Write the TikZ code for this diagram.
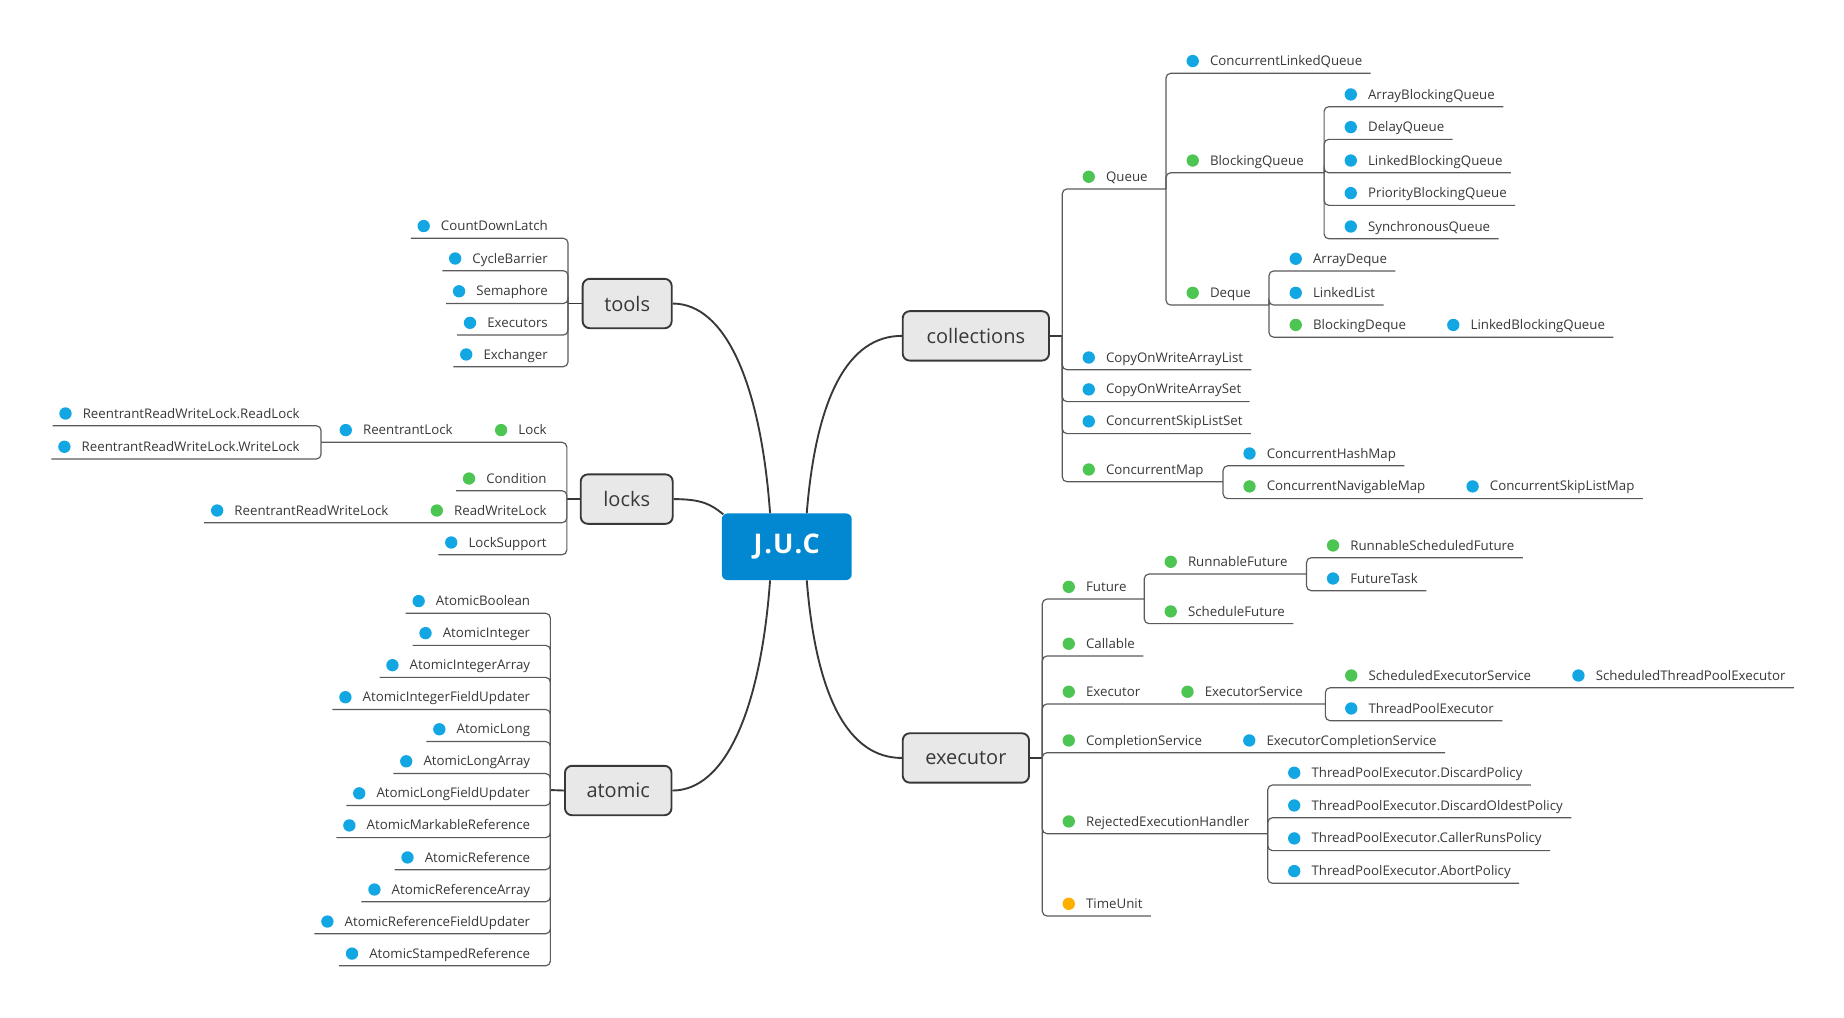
\documentclass[tikz,border=0pt]{standalone}
\usepackage{fontspec}
\setmainfont{Open Sans}
\usetikzlibrary{calc}
\definecolor{cb}{HTML}{12A6E3}
\definecolor{cg}{HTML}{4CC552}
\definecolor{co}{HTML}{FFAF00}
\definecolor{jucc}{HTML}{0288D1}
\definecolor{boxf}{HTML}{E8E8E8}
\definecolor{txt}{HTML}{383838}
\definecolor{lnc}{HTML}{5A5A5A}
\tikzset{
  lf/.style={inner sep=0pt, text=txt, font=\fontsize{11.3}{13}\selectfont},
  dot/.style={circle, inner sep=0pt, minimum size=10.5pt},
  br/.style={draw=lnc, line width=1pt, rounded corners=4pt},
  conn/.style={draw=txt, line width=1.6pt},
  topic/.style={draw=txt, line width=1.6pt, fill=boxf, rounded corners=6pt, minimum height=42pt, text=txt, font=\fontsize{17}{20}\selectfont, inner sep=0pt},
  jucbox/.style={fill=jucc, rounded corners=5pt, minimum width=110.5pt, minimum height=56.7pt, text=white, font=\fontsize{23}{26}\selectfont\bfseries\addfontfeature{LetterSpace=6}, inner sep=0pt}
}
\newcommand\RLbody[2]{%
  \node[lf, anchor=base west] (#1) at ($(#1d)+(14.5,3.9)$) {#2};
  \coordinate (#1-s) at ($(#1d)+(-11,10.4)$);
  \coordinate (#1-e) at ($(#1.base east)+(7,6.5)$);}
\newcommand\RL[5]{\node[dot,fill=#4] (#1d) at (#2,#3-10.4) {};\RLbody{#1}{#5}}
\newcommand\RLi[4]{\node[dot,fill=#3] (#1d) at ($(#2.base east)+(40,-3.9)$) {};\RLbody{#1}{#4}}
\newcommand\LLbody[2]{%
  \node[dot,fill=#2] (#1d) at ($(#1.base west)+(-14.5,-3.9)$) {};
  \coordinate (#1-s) at ($(#1.base west)+(-25.5,6.5)$);}
\newcommand\LL[5]{\node[lf,anchor=base east] (#1) at (#2,#3-6.5) {#5};\LLbody{#1}{#4}}
\newcommand\LLi[4]{\node[lf,anchor=base east] (#1) at ($(#2d)+(-41,3.9)$) {#4};\LLbody{#1}{#3}}
\begin{document}
\begin{tikzpicture}[x=1pt,y=-1pt]
\useasboundingbox (0,0) rectangle (1568,865);
% central and main topics
\node[jucbox] (J) at (669,464.9) {J.U.C};
\node[topic, minimum width=75.7pt] (tools) at (533.3,258.1) {tools};
\node[topic, minimum width=78.2pt] (locks) at (532.9,424.4) {locks};
\node[topic, minimum width=90.6pt] (atomic) at (525.7,672.2) {atomic};
\node[topic, minimum width=124.4pt] (coll) at (829.8,285.6) {collections};
\node[topic, minimum width=107.4pt] (exec) at (821.3,644.5) {executor};
\draw[conn] ([xshift=-14.2pt]J.north) .. controls +(-8,-110) and +(45,0) .. (tools.east);
\draw[conn] (locks.east) .. controls +(25,0) and +(-10,-8) .. ([xshift=1.5pt,yshift=-1pt]J.north west);
\draw[conn] ([xshift=-14.2pt]J.south) .. controls +(-8,110) and +(45,0) .. (atomic.east);
\draw[conn] ([xshift=17pt]J.north) .. controls +(8,-100) and +(-45,0) .. (coll.west);
\draw[conn] ([xshift=17pt]J.south) .. controls +(8,100) and +(-45,0) .. (exec.west);
% branch points
\coordinate (vT) at (483,258.1);
\coordinate (vL) at (482,424.4);
\coordinate (vRL) at (273,376.1);
\coordinate (vA) at (468,671.8);
\coordinate (vC) at (903.3,285.6);
\coordinate (vQ) at (991.5,160.7);
\coordinate (vBQ) at (1125.9,146.9);
\coordinate (vDq) at (1079,259.4);
\coordinate (vCM) at (1040,409.6);
\coordinate (vE) at (886.3,644.5);
\coordinate (vF) at (973,509.4);
\coordinate (vRF) at (1111,488.1);
\coordinate (vES) at (1127,598.6);
\coordinate (vR) at (1078,708.9);
\draw[conn] (tools.west) -- (vT);
\draw[conn] (locks.west) -- (vL);
\draw[conn] (atomic.west) -- (vA);
\draw[conn] (coll.east) -- (vC);
\draw[conn] (exec.east) -- (vE);
% tools
\LL{cdl}{466}{202.6}{cb}{CountDownLatch}
\LL{cyb}{466}{230.2}{cb}{CycleBarrier}
\LL{sem}{466}{258.1}{cb}{Semaphore}
\LL{exs}{466}{284.9}{cb}{Executors}
\LL{exch}{466}{311.8}{cb}{Exchanger}
\foreach \n in {cdl,cyb,sem,exs,exch} \draw[br] (vT) |- (\n-s);
% locks
\LL{lock}{465}{376.1}{cg}{Lock}
\LLi{rlock}{lock}{cb}{ReentrantLock}
\LL{rdl}{255}{362}{cb}{ReentrantReadWriteLock.ReadLock}
\LL{wrl}{255}{390.3}{cb}{ReentrantReadWriteLock.WriteLock}
\LL{cond}{465}{417.3}{cg}{Condition}
\LL{rwlk}{465}{444.5}{cg}{ReadWriteLock}
\LLi{rrwl}{rwlk}{cb}{ReentrantReadWriteLock}
\LL{lsup}{465}{471.7}{cb}{LockSupport}
\draw[br] (vL) |- (vRL);
\draw[br] (vRL) |- (rdl-s);
\draw[br] (vRL) |- (wrl-s);
\foreach \n in {cond,rrwl,lsup} \draw[br] (vL) |- (\n-s);
% atomic
\LL{a1}{451}{521.5}{cb}{AtomicBoolean}
\LL{a2}{451}{548.75}{cb}{AtomicInteger}
\LL{a3}{451}{576}{cb}{AtomicIntegerArray}
\LL{a4}{451}{603.25}{cb}{AtomicIntegerFieldUpdater}
\LL{a5}{451}{630.5}{cb}{AtomicLong}
\LL{a6}{451}{657.75}{cb}{AtomicLongArray}
\LL{a7}{451}{685}{cb}{AtomicLongFieldUpdater}
\LL{a8}{451}{712.25}{cb}{AtomicMarkableReference}
\LL{a9}{451}{739.5}{cb}{AtomicReference}
\LL{a10}{451}{766.75}{cb}{AtomicReferenceArray}
\LL{a11}{451}{794}{cb}{AtomicReferenceFieldUpdater}
\LL{a12}{451}{821.25}{cb}{AtomicStampedReference}
\foreach \i in {1,...,12} \draw[br] (vA) |- (a\i-s);
% collections
\RL{queue}{925.8}{160.7}{cg}{Queue}
\RL{clq}{1014.2}{62.3}{cb}{ConcurrentLinkedQueue}
\RL{bq}{1014.2}{146.9}{cg}{BlockingQueue}
\RL{abq}{1148.6}{90.7}{cb}{ArrayBlockingQueue}
\RL{dq}{1148.6}{118.5}{cb}{DelayQueue}
\RL{lbq}{1148.6}{146.9}{cb}{LinkedBlockingQueue}
\RL{pbq}{1148.6}{174.6}{cb}{PriorityBlockingQueue}
\RL{sq}{1148.6}{203}{cb}{SynchronousQueue}
\RL{deq}{1014.2}{259.4}{cg}{Deque}
\RL{ad}{1101.8}{230.4}{cb}{ArrayDeque}
\RL{ll}{1101.8}{259.4}{cb}{LinkedList}
\RL{bd}{1101.8}{286.7}{cg}{BlockingDeque}
\RLi{lbd}{bd}{cb}{LinkedBlockingQueue}
\RL{cowal}{925.8}{314.4}{cb}{CopyOnWriteArrayList}
\RL{cowas}{925.8}{341.5}{cb}{CopyOnWriteArraySet}
\RL{csls}{925.8}{368.7}{cb}{ConcurrentSkipListSet}
\RL{cmap}{925.8}{409.6}{cg}{ConcurrentMap}
\RL{chm}{1062.5}{396}{cb}{ConcurrentHashMap}
\RL{cnm}{1062.5}{424}{cg}{ConcurrentNavigableMap}
\RLi{cslm}{cnm}{cb}{ConcurrentSkipListMap}
\draw[br] (vC) |- (vQ);
\draw[br] (vQ) |- (clq-e);
\draw[br] (vQ) |- (vBQ);
\draw[br] (vQ) |- (vDq);
\foreach \n in {abq,dq,lbq,pbq,sq} \draw[br] (vBQ) |- (\n-e);
\foreach \n in {ad,ll,lbd} \draw[br] (vDq) |- (\n-e);
\foreach \n in {cowal,cowas,csls} \draw[br] (vC) |- (\n-e);
\draw[br] (vC) |- (vCM);
\draw[br] (vCM) |- (chm-e);
\draw[br] (vCM) |- (cslm-e);
% executor
\RL{fut}{908.8}{509.4}{cg}{Future}
\RL{rf}{995.5}{488.1}{cg}{RunnableFuture}
\RL{rsf}{1133.5}{474.2}{cg}{RunnableScheduledFuture}
\RL{ft}{1133.5}{502.3}{cb}{FutureTask}
\RL{sf}{995.5}{530.3}{cg}{ScheduleFuture}
\RL{call}{908.8}{557.8}{cg}{Callable}
\RL{extr}{908.8}{598.6}{cg}{Executor}
\RLi{exsv}{extr}{cg}{ExecutorService}
\RL{ses}{1149}{584.8}{cg}{ScheduledExecutorService}
\RLi{stpe}{ses}{cb}{ScheduledThreadPoolExecutor}
\RL{tpe}{1149}{612.8}{cb}{ThreadPoolExecutor}
\RL{cs}{908.8}{640}{cg}{CompletionService}
\RLi{ecs}{cs}{cb}{ExecutorCompletionService}
\RL{reh}{908.8}{708.9}{cg}{RejectedExecutionHandler}
\RL{p1}{1100.5}{667.5}{cb}{ThreadPoolExecutor.DiscardPolicy}
\RL{p2}{1100.5}{695.3}{cb}{ThreadPoolExecutor.DiscardOldestPolicy}
\RL{p3}{1100.5}{723.3}{cb}{ThreadPoolExecutor.CallerRunsPolicy}
\RL{p4}{1100.5}{751.1}{cb}{ThreadPoolExecutor.AbortPolicy}
\RL{tu}{908.8}{778.9}{co}{TimeUnit}
\draw[br] (vE) |- (vF);
\draw[br] (vF) |- (vRF);
\draw[br] (vRF) |- (rsf-e);
\draw[br] (vRF) |- (ft-e);
\draw[br] (vF) |- (sf-e);
\draw[br] (vE) |- (call-e);
\draw[br] (vE) |- (vES);
\draw[br] (vES) |- (stpe-e);
\draw[br] (vES) |- (tpe-e);
\draw[br] (vE) |- (ecs-e);
\draw[br] (vE) |- (vR);
\foreach \i in {1,...,4} \draw[br] (vR) |- (p\i-e);
\draw[br] (vE) |- (tu-e);
\end{tikzpicture}
\end{document}
